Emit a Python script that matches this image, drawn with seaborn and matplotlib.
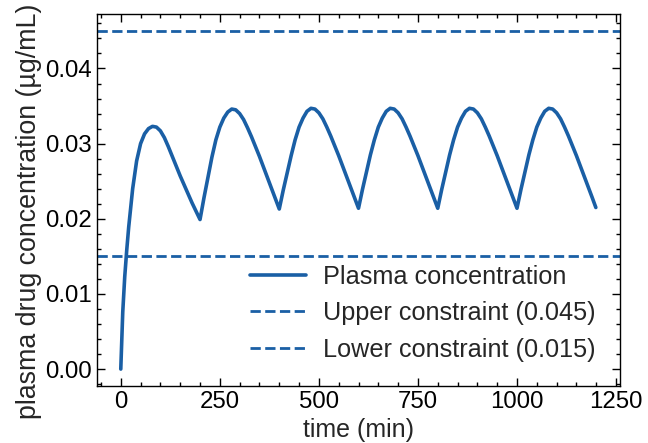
import numpy as np
import pandas as pd
import seaborn as sns
import matplotlib
matplotlib.use("Agg")
from matplotlib import pyplot as plt
from matplotlib.ticker import MultipleLocator

# time grid (min) and plasma concentration (ug/mL)
time_min = [0, 5, 10, 15] + list(range(20, 1200, 10)) + [1199]

conc = [
    # dose 1 (0-190)
    0.0000, 0.0076, 0.0123, 0.0158, 0.0189, 0.0240, 0.0277, 0.0300, 0.0313, 0.0320,
    0.0323, 0.0322, 0.0317, 0.0308, 0.0296, 0.0283, 0.0270, 0.0257, 0.0245, 0.0233,
    0.0221, 0.0210,
    # dose 2 (200-390)
    0.0199, 0.0228, 0.0255, 0.0282, 0.0305, 0.0322, 0.0334, 0.0342, 0.0346, 0.0345,
    0.0340, 0.0332, 0.0321, 0.0309, 0.0296, 0.0283, 0.0269, 0.0255, 0.0241, 0.0227,
    # dose 3 (400-590)
    0.0213, 0.0238, 0.0261, 0.0284, 0.0305, 0.0322, 0.0334, 0.0343, 0.0347, 0.0346,
    0.0341, 0.0333, 0.0322, 0.0310, 0.0297, 0.0284, 0.0270, 0.0256, 0.0242, 0.0228,
    # dose 4 (600-790)
    0.0214, 0.0239, 0.0262, 0.0285, 0.0305, 0.0322, 0.0334, 0.0343, 0.0347, 0.0346,
    0.0341, 0.0333, 0.0322, 0.0310, 0.0297, 0.0284, 0.0270, 0.0256, 0.0242, 0.0228,
    # dose 5 (800-990)
    0.0214, 0.0239, 0.0262, 0.0285, 0.0305, 0.0322, 0.0334, 0.0343, 0.0347, 0.0346,
    0.0341, 0.0333, 0.0322, 0.0310, 0.0297, 0.0284, 0.0270, 0.0256, 0.0242, 0.0228,
    # dose 6 (1000-1190) + end
    0.0214, 0.0239, 0.0262, 0.0285, 0.0305, 0.0322, 0.0334, 0.0343, 0.0347, 0.0346,
    0.0341, 0.0333, 0.0322, 0.0310, 0.0297, 0.0284, 0.0270, 0.0256, 0.0242, 0.0228,
    0.0215,
]

upper = 0.045
lower = 0.015
color = '#1a5fa5'

sns.set_theme(style="ticks")
plt.rcParams['font.family'] = ['Liberation Sans', 'DejaVu Sans']

df = pd.DataFrame({'time': time_min, 'conc': conc})

fig = plt.figure(figsize=(6.48, 4.43), dpi=100)
ax = fig.add_axes([0.1497, 0.1287, 0.8071, 0.8397])

sns.lineplot(data=df, x='time', y='conc', ax=ax, color=color, linewidth=2.6,
             label='Plasma concentration')
ax.axhline(upper, color=color, linestyle='--', linewidth=2.0,
           label='Upper constraint (0.045)')
ax.axhline(lower, color=color, linestyle='--', linewidth=2.0,
           label='Lower constraint (0.015)')

ax.set_ylim(-0.00225, 0.04725)
ax.set_xlim(-60, 1260)
ax.set_xticks([0, 250, 500, 750, 1000, 1250])
ax.set_yticks([0.0, 0.01, 0.02, 0.03, 0.04])
ax.xaxis.set_minor_locator(MultipleLocator(50))
ax.yaxis.set_minor_locator(MultipleLocator(0.002))
ax.tick_params(which='both', direction='in', top=True, right=True, colors='black',
               labelsize=17.3)
ax.tick_params(which='major', length=6, width=1.0)
ax.tick_params(which='minor', length=3, width=1.0)
for s in ax.spines.values():
    s.set_color('black')
    s.set_linewidth(1.0)

ax.set_xlabel('time (min)', fontsize=18, labelpad=3.5)
ax.set_ylabel('plasma drug concentration (\u00b5g/mL)', fontsize=19.3)
ax.yaxis.set_label_coords(-0.105, 0.47)

ax.legend(loc='lower right', frameon=False, fontsize=18.2, handlelength=2.2,
          handletextpad=0.7, labelspacing=0.5, borderaxespad=0.55)

fig.savefig('out.png', dpi=100)
